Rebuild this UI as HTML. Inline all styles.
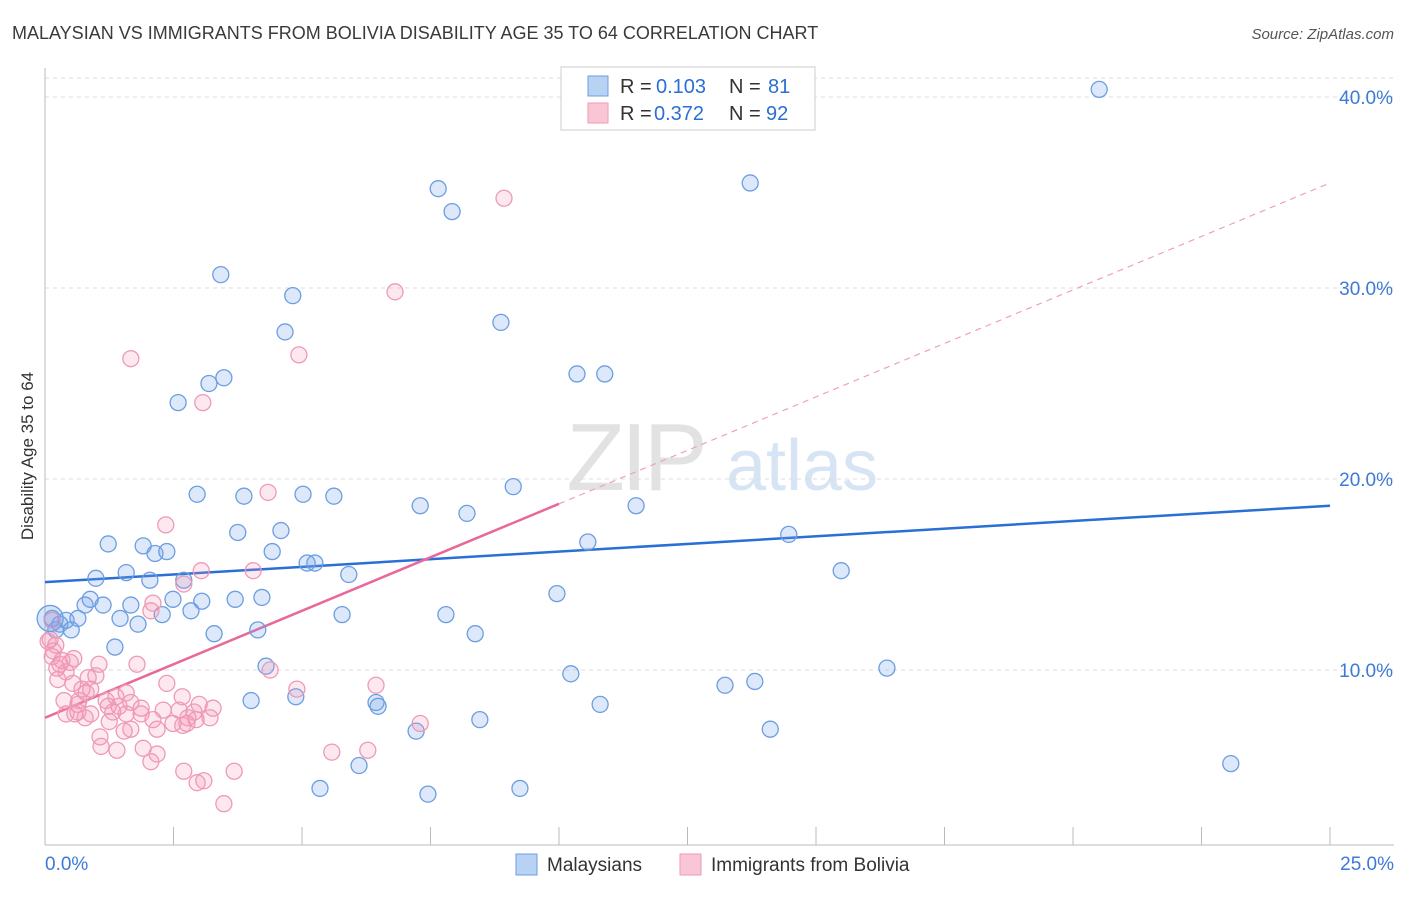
<!DOCTYPE html>
<html><head><meta charset="utf-8"><style>
body{margin:0;background:#fff;font-family:"Liberation Sans",sans-serif}
svg text{font-family:"Liberation Sans",sans-serif}
</style></head><body>
<svg id="chart" width="1406" height="892" viewBox="0 0 1406 892" xmlns="http://www.w3.org/2000/svg">
<text x="12" y="39" font-size="18" fill="#3a3a3a">MALAYSIAN VS IMMIGRANTS FROM BOLIVIA DISABILITY AGE 35 TO 64 CORRELATION CHART</text>
<text x="1394" y="39" font-size="15" fill="#555" text-anchor="end" font-style="italic">Source: ZipAtlas.com</text>
<text transform="translate(33,456) rotate(-90)" font-size="17" fill="#333" text-anchor="middle">Disability Age 35 to 64</text>
<g>
<text x="635" y="490" font-size="96" fill="#e2e2e2" text-anchor="middle" font-family="Liberation Serif,serif" letter-spacing="-4">ZIP</text>
<text x="802" y="490" font-size="72" fill="#d6e4f4" text-anchor="middle">atlas</text>
</g>
<g id="grid"></g>
<g id="axes"></g>
<g id="lines"></g>
<g id="points"></g>
<g>
<rect x="561" y="67" width="254" height="63" fill="#fff" stroke="#ccc"/>
<rect x="588" y="76" width="20" height="20" fill="#b8d2f4" stroke="#6c9ee0"/>
<rect x="588" y="103" width="20" height="20" fill="#f9c6d6" stroke="#ee9ab5"/>
<text x="620" y="93" font-size="20" fill="#333">R = </text>
<text x="656" y="93" font-size="20" fill="#2a6fd6">0.103</text>
<text x="729" y="93" font-size="20" fill="#333">N = </text>
<text x="768" y="93" font-size="20" fill="#2a6fd6">81</text>
<text x="620" y="120" font-size="20" fill="#333">R = </text>
<text x="654" y="120" font-size="20" fill="#2a6fd6">0.372</text>
<text x="729" y="120" font-size="20" fill="#333">N = </text>
<text x="766" y="120" font-size="20" fill="#2a6fd6">92</text>
</g>
<g>
<rect x="516" y="854" width="21" height="21" fill="#b8d2f4" stroke="#6c9ee0"/>
<text x="547" y="871" font-size="19" fill="#333">Malaysians</text>
<rect x="680" y="854" width="21" height="21" fill="#f9c6d6" stroke="#ee9ab5"/>
<text x="711" y="871" font-size="19" fill="#333">Immigrants from Bolivia</text>
</g>
</svg>
<script>
const blueX=[20.51,7.65,7.92,13.72,3.42,4.82,4.67,8.87,10.35,10.89,2.59,3.19,3.48,2.96,3.87,5.02,5.62,9.11,7.30,8.21,11.50,3.75,4.59,1.23,1.91,2.14,2.37,4.42,10.56,14.47,5.10,5.25,0.99,1.58,2.04,2.70,5.91,15.49,0.88,1.13,0.78,1.67,2.49,3.05,3.70,4.22,9.96,0.14,0.29,0.41,0.64,1.46,2.28,2.84,5.78,7.80,0.21,0.51,1.81,3.29,4.14,8.37,1.36,4.30,10.23,16.38,13.23,13.81,4.88,4.01,6.44,6.48,10.80,8.46,7.22,14.11,6.11,5.35,7.45,9.24,23.07];
const blueY=[40.4,35.2,34.0,35.5,30.7,29.6,27.7,28.2,25.5,25.5,24.0,25.0,25.3,19.2,19.1,19.2,19.1,19.6,18.6,18.2,18.6,17.2,17.3,16.6,16.5,16.1,16.2,16.2,16.7,17.1,15.6,15.6,14.8,15.1,14.7,14.7,15.0,15.2,13.7,13.4,13.4,13.4,13.7,13.6,13.7,13.8,14.0,12.7,12.4,12.6,12.7,12.7,12.9,13.1,12.9,12.9,12.1,12.1,12.4,11.9,12.1,11.9,11.2,10.2,9.8,10.1,9.2,9.4,8.6,8.4,8.3,8.1,8.2,7.4,6.8,6.9,5.0,3.8,3.5,3.8,5.1];
const pinkX=[8.93,6.81,1.67,4.94,3.07,4.34,2.35,3.04,4.05,2.70,2.10,2.06,0.14,0.10,0.21,0.16,0.29,0.49,0.23,0.41,1.05,1.79,0.25,0.54,0.72,0.89,0.99,0.80,1.19,1.38,1.58,0.66,0.37,0.58,0.89,1.23,1.44,1.67,1.87,0.64,0.78,2.37,2.67,3.00,3.27,4.90,6.44,4.38,1.58,1.87,2.30,2.61,2.78,2.94,2.68,2.49,2.10,1.67,1.25,1.07,1.09,1.40,1.91,2.18,2.06,2.70,5.58,6.28,7.30,2.76,2.96,3.09,3.48,3.68,2.18,1.54,0.64,0.41,1.32,0.84,0.56,0.33,0.06,0.14,2.90,3.21];
const pinkY=[34.7,29.8,26.3,26.5,24.0,19.3,17.6,15.2,15.2,14.5,13.5,13.1,12.6,11.6,11.3,11.0,10.3,10.4,10.1,9.9,10.3,10.3,9.5,9.3,9.0,9.0,9.7,8.8,8.4,8.6,8.8,8.4,8.4,7.7,7.7,8.1,8.1,8.3,8.0,8.2,7.5,9.3,8.6,8.2,8.0,9.0,9.2,10.0,7.7,7.7,7.9,7.9,7.5,7.4,7.1,7.2,7.4,6.9,7.3,6.5,6.0,5.8,5.9,5.6,5.2,4.7,5.7,5.8,7.2,7.2,4.1,4.2,3.0,4.7,6.9,6.8,7.8,7.7,7.8,9.6,10.6,10.5,11.5,10.7,7.8,7.5];
const yTicks=[10,20,30,40];
const yTickLabels=["10.0%","20.0%","30.0%","40.0%"];
const xTickVals=[0,2.5,5,7.5,10,12.5,15,17.5,20,22.5,25];
const blueTrend=[14.6,18.6];
const pinkTrend=[7.5,18.7];
const pinkSolidEnd=10;

const NS="http://www.w3.org/2000/svg";
const sx=v=>45+v*51.4;
const sy=v=>861-v*19.1;
function mk(tag,attrs,parent){const e=document.createElementNS(NS,tag);for(const k in attrs)e.setAttribute(k,attrs[k]);parent.appendChild(e);return e;}
const gridG=document.getElementById('grid'),axesG=document.getElementById('axes'),linesG=document.getElementById('lines'),ptsG=document.getElementById('points');
const topLine=mk('line',{x1:45,x2:1394,y1:78,y2:78,stroke:'#ddd','stroke-dasharray':'4,4'},gridG);


yTicks.forEach((t,i)=>{
 const g=mk('line',{x1:45,x2:1394,y1:sy(t),y2:sy(t),stroke:'#ddd','stroke-dasharray':'4,4'},gridG);
 
 
 const l=mk('text',{x:1393,y:sy(t)+7,'font-size':19,fill:'#3d7ad6','text-anchor':'end'},axesG);
 l.textContent=yTickLabels[i];
 
 
});
const yAxis=mk('line',{x1:45,x2:45,y1:68,y2:845,stroke:'#bbb'},axesG);


const xAxis=mk('line',{x1:45,x2:1394,y1:845,y2:845,stroke:'#bbb'},axesG);


xTickVals.forEach(t=>{
 const k=mk('line',{x1:sx(t),x2:sx(t),y1:827,y2:845,stroke:'#bbb'},axesG);
 
 
});
const xMinLbl=mk('text',{x:45,y:870,'font-size':19,fill:'#3d7ad6'},axesG);xMinLbl.textContent='0.0%';


const xMaxLbl=mk('text',{x:1394,y:870,'font-size':19,fill:'#3d7ad6','text-anchor':'end'},axesG);xMaxLbl.textContent='25.0%';



function drawPts(X,Y,fill,stroke,name){
 X.forEach((x,i)=>{
  const c=mk('circle',{cx:sx(x),cy:sy(Y[i]),r:8,fill:fill,stroke:stroke,'stroke-width':1.3},ptsG);
  
  
 });
}
drawPts(blueX,blueY,'rgba(120,165,235,0.25)','#6c9ee0','malaysian-point');
drawPts(pinkX,pinkY,'rgba(245,150,180,0.22)','#ee9ab5','bolivia-point');
const bigPt=mk('circle',{cx:sx(0.1),cy:sy(12.7),r:13,fill:'rgba(120,165,235,0.3)',stroke:'#6c9ee0','stroke-width':1.3},ptsG);



const blueLine=mk('line',{x1:sx(0),y1:sy(blueTrend[0]),x2:sx(25),y2:sy(blueTrend[1]),stroke:'#2a6fd6','stroke-width':2.5},linesG);


const pAt=x=>pinkTrend[0]+(pinkTrend[1]-pinkTrend[0])*x/pinkSolidEnd;
const pinkLine=mk('line',{x1:sx(0),y1:sy(pAt(0)),x2:sx(pinkSolidEnd),y2:sy(pAt(pinkSolidEnd)),stroke:'#e8689a','stroke-width':2.5},linesG);


const pinkDash=mk('line',{x1:sx(pinkSolidEnd),y1:sy(pAt(pinkSolidEnd)),x2:sx(25),y2:sy(pAt(25)),stroke:'#f0a0bc','stroke-width':1.2,'stroke-dasharray':'6,5'},linesG);


</script>
</body></html>
